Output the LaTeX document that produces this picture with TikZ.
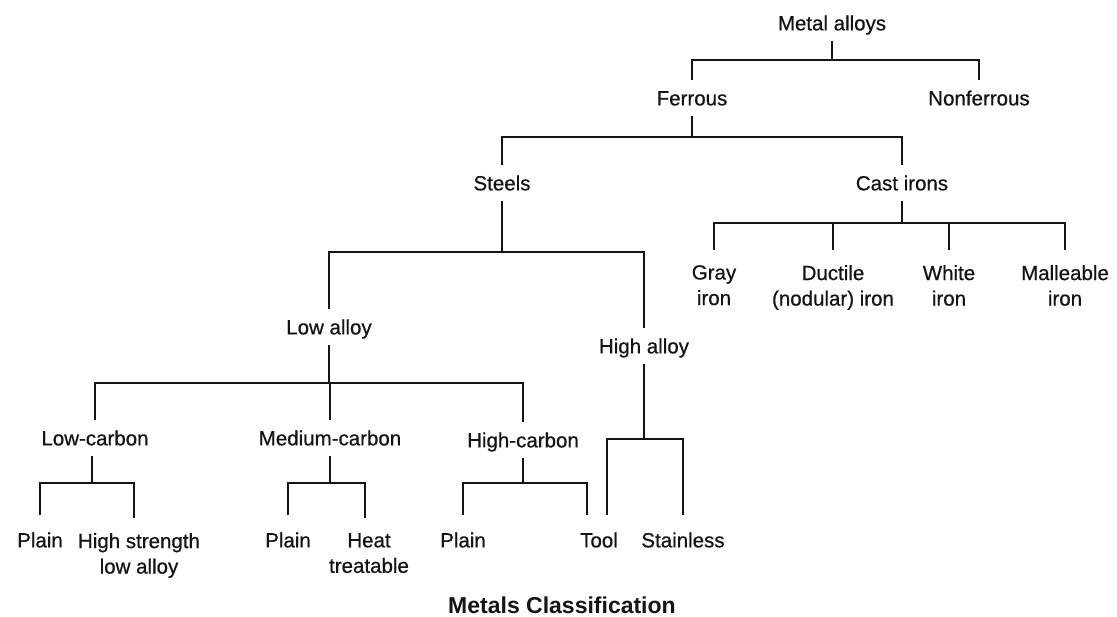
\documentclass[tikz,border=0pt]{standalone}
\usepackage{fontspec}
\setmainfont{Liberation Sans}
\newfontfamily\heavyreg[FakeBold=0.6]{Liberation Sans}
\definecolor{ink}{HTML}{141414}
\begin{document}
\begin{tikzpicture}[x=1pt,y=-1pt,
  lbl/.style={font=\heavyreg\fontsize{20.5}{25.5}\selectfont, text=ink, text height=14.7pt, text depth=0pt, inner xsep=1pt, inner ysep=10pt},
  leaf/.style={lbl, inner ysep=17pt},
  lbltwo/.style={font=\heavyreg\fontsize{20.5}{25.5}\selectfont, text=ink, align=center, anchor=north, inner xsep=1pt, inner ysep=15pt},
  conn/.style={line width=2.6pt, draw=ink}]
\fill[white] (0,0) rectangle (1117,617);
\useasboundingbox (0,0) rectangle (1117,617);

% nodes
\node[lbl] (ma) at (832,23) {Metal alloys};
\node[lbl] (fe) at (692,98) {Ferrous};
\node[lbl] (nf) at (979,98) {Nonferrous};
\node[lbl] (st) at (502,183) {Steels};
\node[lbl] (ci) at (902,183) {Cast irons};
\node[lbltwo] (gi) at (714,250) {Gray\\iron};
\node[lbltwo] (du) at (833,250) {Ductile\\(nodular) iron};
\node[lbltwo] (wi) at (949,250) {White\\iron};
\node[lbltwo] (mi) at (1065,250) {Malleable\\iron};
\node[lbl] (la) at (329,327) {Low alloy};
\node[lbl] (ha) at (644,346) {High alloy};
\node[lbl] (lc) at (95,438) {Low-carbon};
\node[lbl] (mc) at (330,438) {Medium-carbon};
\node[lbl] (hc) at (523,440) {High-carbon};
\node[leaf] (p1) at (40,540) {Plain};
\node[lbltwo] (hs) at (139,518) {High strength\\low alloy};
\node[leaf] (p2) at (288,540) {Plain};
\node[lbltwo] (ht) at (369,518) {Heat\\treatable};
\node[leaf] (p3) at (463,540) {Plain};
\node[leaf] (tool) at (599,540) {Tool};
\node[leaf] (ss) at (683,540) {Stainless};
\node[font=\fontsize{23}{27}\bfseries, text=ink, inner sep=0pt] (title) at (562,605) {Metals Classification};

% junctions
\coordinate (j1) at (832,60);
\coordinate (j2) at (692,137);
\coordinate (j3) at (902,223);
\coordinate (j4) at (502,252);
\coordinate (j5) at (329,383);
\coordinate (j6) at (92,483);
\coordinate (j7) at (330,483);
\coordinate (j8) at (523,483);
\coordinate (j9) at (644,439);
\coordinate (toolL) at ([xshift=-12pt]tool.north);
\coordinate (toolR) at ([xshift=8pt]tool.north);
\coordinate (hsT) at ([xshift=-5pt]hs.north);
\coordinate (htT) at ([xshift=-4pt]ht.north);

% connectors
\draw[conn] (ma) -- (j1);
\draw[conn] (fe) |- (j1) -| (nf);
\draw[conn] (fe) -- (j2);
\draw[conn] (st) |- (j2) -| (ci);
\draw[conn] (ci) -- (j3);
\draw[conn] (gi) |- (j3) -| (mi);
\draw[conn] (du) -- (du |- j3);
\draw[conn] (wi) -- (wi |- j3);
\draw[conn] (st) -- (j4);
\draw[conn] (la) |- (j4) -| (ha);
\draw[conn] (la) -- (j5);
\draw[conn] (lc) |- (j5) -| (hc);
\draw[conn] (mc) -- (mc |- j5);
\draw[conn] (lc.south -| j6) -- (j6);
\draw[conn] (p1) |- (j6) -| (hsT);
\draw[conn] (mc) -- (j7);
\draw[conn] (p2) |- (j7) -| (htT);
\draw[conn] (hc) -- (j8);
\draw[conn] (p3) |- (j8) -| (toolL);
\draw[conn] (ha) -- (j9);
\draw[conn] (toolR) |- (j9) -| (ss);
\end{tikzpicture}
\end{document}
